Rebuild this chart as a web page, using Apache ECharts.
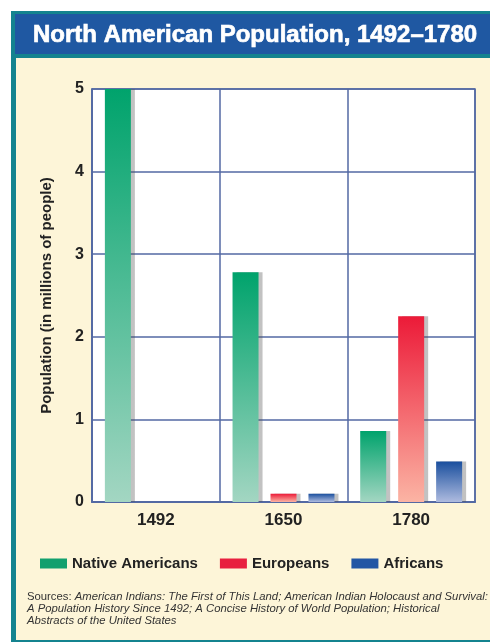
<!DOCTYPE html>
<html>
<head>
<meta charset="utf-8">
<script src="https://cdn.jsdelivr.net/npm/echarts@6/dist/echarts.min.js"></script>
<style>
  html, body { margin: 0; padding: 0; background: #ffffff; }
  #chart { width: 490px; height: 642px; }
</style>
</head>
<body>
<div id="chart"></div>
<script>
// Population in millions of people
const categories = ['1492', '1650', '1780'];
const nativeAmericans = [5.0, 2.78, 0.86];
const europeans = [0, 0.1, 2.25];
const africans = [0, 0.1, 0.49];
const yTicks = { min: 0, max: 5, interval: 1 };

const titleText = 'North American Population, 1492\u20131780';
const yAxisTitle = 'Population (in millions of people)';
const sourceLines = [
  '{n|Sources: }{i|American Indians: The First of This Land; American Indian Holocaust and Survival:}',
  '{i|A Population History Since 1492; A Concise History of World Population; Historical}',
  '{i|Abstracts of the United States}'
];

const FONT = "'Liberation Sans', Arial, sans-serif";

function fade(top, bottom) {
  return new echarts.graphic.LinearGradient(0, 0, 0, 1, [
    { offset: 0, color: top },
    { offset: 1, color: bottom }
  ]);
}

const palette = {
  native: { solid: '#12a06e', top: '#00a36c', bottom: '#a3d6c2' },
  euro:   { solid: '#e8203f', top: '#ec1a38', bottom: '#fbb4a4' },
  afr:    { solid: '#2256a4', top: '#1a4f9e', bottom: '#aebbdf' }
};

function barSeries(name, data, c) {
  return {
    name: name,
    type: 'bar',
    data: data,
    barWidth: 26,
    barGap: '46%',
    itemStyle: {
      color: fade(c.top, c.bottom),
      shadowColor: 'rgba(80,80,80,0.35)',
      shadowBlur: 0,
      shadowOffsetX: 4,
      shadowOffsetY: 0
    },
    emphasis: { disabled: true },
    z: 3
  };
}

const chart = echarts.init(document.getElementById('chart'), null, { renderer: 'canvas' });

chart.setOption({
  animation: false,
  backgroundColor: '#ffffff',
  graphic: [
    // outer teal frame
    { type: 'rect', z: -10, shape: { x: 11, y: 11, width: 490, height: 640 }, style: { fill: '#14838f' } },
    // blue title band
    { type: 'rect', z: -9, shape: { x: 15, y: 14, width: 480, height: 40 }, style: { fill: '#1f58a2' } },
    // cream panel
    { type: 'rect', z: -9, shape: { x: 16, y: 58, width: 480, height: 582 }, style: { fill: '#fdf5d8' } },
    {
      type: 'text', z: 5, x: 33, y: 35,
      style: {
        text: titleText, fill: '#ffffff',
        stroke: '#ffffff', lineWidth: 0.7,
        font: "bold 24px " + FONT,
        verticalAlign: 'middle'
      }
    },
    {
      type: 'text', z: 5, x: 27, y: 591,
      style: {
        text: sourceLines.join('\n'),
        fill: '#333333',
        lineHeight: 12,
        rich: {
          n: { fontFamily: FONT, fontSize: 11.3, lineHeight: 12, fill: '#333' },
          i: { fontFamily: FONT, fontSize: 11.3, fontStyle: 'italic', lineHeight: 12, fill: '#333' }
        }
      }
    }
  ],
  grid: {
    left: 92, right: 15, top: 89, bottom: 140,
    show: true,
    backgroundColor: '#ffffff',
    borderColor: '#5369a3',
    borderWidth: 1.5
  },
  legend: {
    left: 35, top: 551,
    icon: 'rect',
    itemWidth: 27, itemHeight: 10, itemGap: 22,
    selectedMode: false,
    textStyle: { fontFamily: FONT, fontWeight: 'bold', fontSize: 15, color: '#222' },
    data: [
      { name: 'Native Americans', itemStyle: { color: palette.native.solid, shadowColor: 'transparent' } },
      { name: 'Europeans', itemStyle: { color: palette.euro.solid, shadowColor: 'transparent' } },
      { name: 'Africans', itemStyle: { color: palette.afr.solid, shadowColor: 'transparent' } }
    ]
  },
  xAxis: {
    type: 'category',
    data: categories,
    boundaryGap: true,
    axisLine: { show: true, lineStyle: { color: '#5369a3', width: 2 } },
    axisTick: { show: false },
    splitLine: { show: true, lineStyle: { color: '#5369a3', width: 1.5 } },
    axisLabel: { fontFamily: FONT, fontWeight: 'bold', fontSize: 17, color: '#222', margin: 10 }
  },
  yAxis: {
    type: 'value',
    min: yTicks.min, max: yTicks.max, interval: yTicks.interval,
    name: yAxisTitle,
    nameLocation: 'middle',
    nameGap: 38,
    nameTextStyle: { fontFamily: FONT, fontWeight: 'bold', fontSize: 15, color: '#222' },
    axisLine: { show: true, lineStyle: { color: '#5369a3', width: 1.5 } },
    axisTick: { show: false },
    splitLine: { show: true, lineStyle: { color: '#5369a3', width: 1.5 } },
    axisLabel: { fontFamily: FONT, fontWeight: 'bold', fontSize: 16, color: '#222', margin: 8 }
  },
  series: [
    barSeries('Native Americans', nativeAmericans, palette.native),
    barSeries('Europeans', europeans, palette.euro),
    barSeries('Africans', africans, palette.afr)
  ]
});
</script>
</body>
</html>
